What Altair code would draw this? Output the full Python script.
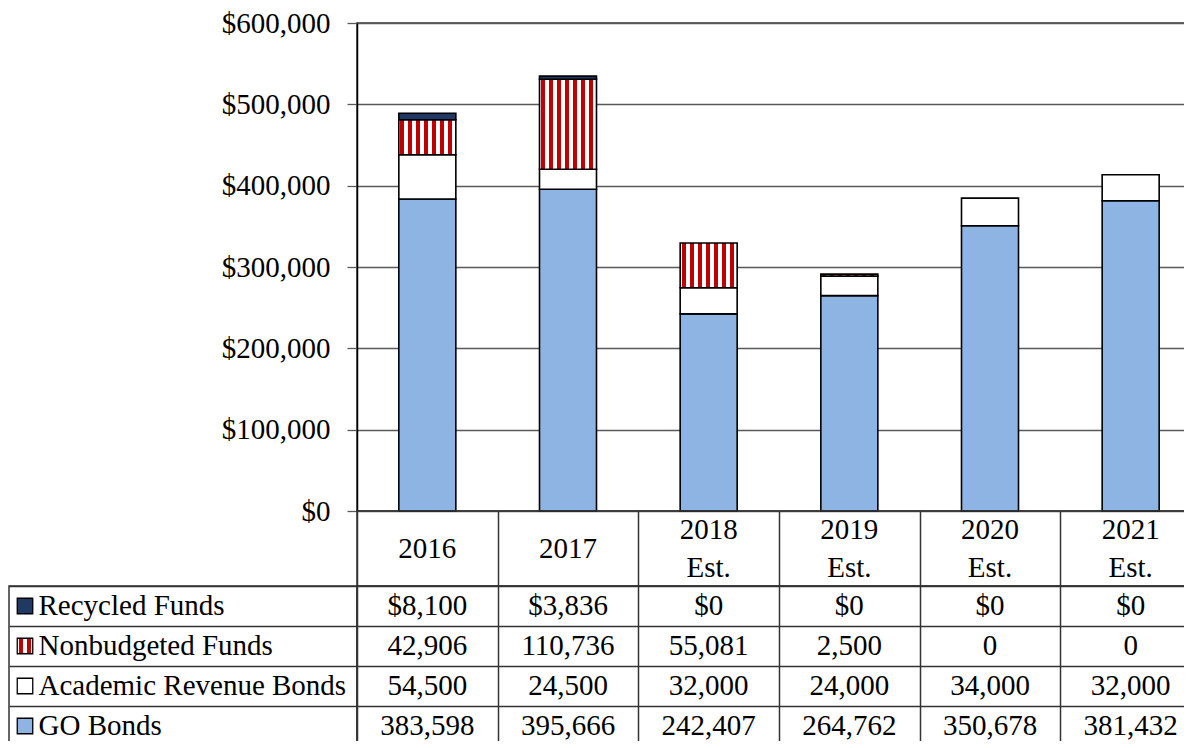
import altair as alt
import pandas as pd

# ---- data ----
years = ["2016", "2017", "2018 Est.", "2019 Est.", "2020 Est.", "2021 Est."]
recycled = [8100, 3836, 0, 0, 0, 0]
nonbudgeted = [42906, 110736, 55081, 2500, 0, 0]
academic = [54500, 24500, 32000, 24000, 34000, 32000]
go_bonds = [383598, 395666, 242407, 264762, 350678, 381432]

row_names = ["Recycled Funds", "Nonbudgeted Funds", "Academic Revenue Bonds", "GO Bonds"]
series_values = {
    "Recycled Funds": recycled,
    "Nonbudgeted Funds": nonbudgeted,
    "Academic Revenue Bonds": academic,
    "GO Bonds": go_bonds,
}
stack_order = ["GO Bonds", "Academic Revenue Bonds", "Nonbudgeted Funds", "Recycled Funds"]
y_ticks = [0, 100000, 200000, 300000, 400000, 500000, 600000]

# ---- styles ----
FONT = "Liberation Serif"
FS = 29
RED = "#C00000"
NAVY = "#1F3864"
BLUE = "#8EB4E3"
LINE = "#333333"
GRID = "#595959"


def stripe_gradient(n, start, red_w, period, total):
    stops = [alt.GradientStop(offset=0, color="white")]
    for i in range(n):
        a = (start + i * period) / total
        b = (start + i * period + red_w) / total
        stops += [
            alt.GradientStop(offset=a, color="white"),
            alt.GradientStop(offset=a, color=RED),
            alt.GradientStop(offset=b, color=RED),
            alt.GradientStop(offset=b, color="white"),
        ]
    stops.append(alt.GradientStop(offset=1, color="white"))
    return alt.LinearGradient(gradient="linear", stops=stops, x1=0, x2=1, y1=0, y2=0)


fills = {
    "GO Bonds": BLUE,
    "Academic Revenue Bonds": "white",
    "Nonbudgeted Funds": stripe_gradient(7, 1.5, 4, 8, 57),
    "Recycled Funds": NAVY,
}
swatch_fills = {
    "GO Bonds": BLUE,
    "Academic Revenue Bonds": "white",
    "Nonbudgeted Funds": stripe_gradient(2, 1.5, 4.5, 8, 15.5),
    "Recycled Funds": NAVY,
}

# ---- derived tables ----
seg_rows = []
for i, yr in enumerate(years):
    base = 0
    for s in stack_order:
        v = series_values[s][i]
        if v > 0:
            seg_rows.append({"year": yr, "series": s, "y0": base, "y1": base + v})
        base += v
segs = pd.DataFrame(seg_rows)

cell_rows = []
for r, s in enumerate(row_names):
    for i, yr in enumerate(years):
        v = series_values[s][i]
        txt = f"${v:,.0f}" if r == 0 else f"{v:,.0f}"
        cell_rows.append({"year": yr, "row": s, "label": txt})
cells = pd.DataFrame(cell_rows)

header = pd.DataFrame({
    "year": years,
    "label": [y.replace(" ", "\n") for y in years],
    "lines": [len(y.split(" ")) for y in years],
})
rows_df = pd.DataFrame({"row": row_names})

W_LEFT = 348
W_PLOT = 844
H_BARS = 488
H_HEAD = 75
H_BODY = 160

x_cols = alt.Scale(domain=years, paddingInner=0, paddingOuter=0)
y_rows = alt.Scale(domain=row_names, paddingInner=0, paddingOuter=0)
bar_pad = 1 - 57 / (W_PLOT / 6)


def grid_axis():
    return alt.Axis(labels=False, ticks=False, domain=False, grid=True, tickBand="extent",
                    gridColor=LINE, gridWidth=1.5, title=None)


# ---- bar chart ----
bar_base = alt.Chart(segs).encode(
    x=alt.X("year:N", scale=alt.Scale(domain=years, paddingInner=bar_pad, paddingOuter=bar_pad / 2), axis=None),
    y=alt.Y(
        "y1:Q",
        scale=alt.Scale(domain=[0, 600000], nice=False),
        axis=alt.Axis(
            values=y_ticks, format="$,.0f", title=None, grid=True, gridColor=GRID,
            gridWidth=1.3, tickSize=10, tickColor=GRID, tickWidth=1.3, labelPadding=17,
            labelFontSize=FS, labelFont=FONT, labelColor="black", domainColor="black",
            domainWidth=1.5,
        ),
    ),
    y2="y0:Q",
)
bar_layers = [
    bar_base.transform_filter(alt.datum.series == s).mark_bar(
        fill=fills[s], stroke="black", strokeWidth=1.6, opacity=1
    )
    for s in stack_order
]
bars = alt.layer(*bar_layers).properties(
    width=W_PLOT, height=H_BARS, view=alt.ViewBackground(stroke=LINE, strokeWidth=1.5)
)


def blank(h):
    return (
        alt.Chart(pd.DataFrame({"a": [0]}))
        .mark_text(text="")
        .properties(width=W_LEFT, height=h, view=alt.ViewBackground(stroke="transparent"))
    )


# ---- header row ----
head_base = alt.Chart(header).encode(
    x=alt.X("year:N", scale=x_cols, axis=grid_axis()),
    text="label:N",
)
head_one = head_base.transform_filter(alt.datum.lines == 1).mark_text(
    font=FONT, fontSize=FS, lineBreak="\n", baseline="middle", lineHeight=38, color="black"
)
head_two = head_base.transform_filter(alt.datum.lines == 2).mark_text(
    font=FONT, fontSize=FS, lineBreak="\n", baseline="middle", lineHeight=38, color="black", dy=-19
)
head = alt.layer(head_one, head_two).properties(width=W_PLOT, height=H_HEAD)

# ---- body of the table ----
body = (
    alt.Chart(cells)
    .mark_text(font=FONT, fontSize=FS, baseline="middle", color="black")
    .encode(
        x=alt.X("year:N", scale=x_cols, axis=grid_axis()),
        y=alt.Y("row:N", scale=y_rows, axis=grid_axis()),
        text="label:N",
    )
    .properties(width=W_PLOT, height=H_BODY)
)

# ---- legend column ----
lab_base = alt.Chart(rows_df).encode(
    y=alt.Y("row:N", scale=y_rows, axis=grid_axis()),
)
lab_text = lab_base.mark_text(font=FONT, fontSize=FS, align="left", baseline="middle", color="black").encode(
    x=alt.value(29.5), text="row:N"
)
swatches = [
    lab_base.transform_filter(alt.datum.row == s)
    .mark_square(size=240, fill=swatch_fills[s], stroke="black", strokeWidth=1.3, opacity=1, filled=True)
    .encode(x=alt.value(16))
    for s in row_names
]
labels = alt.layer(lab_text, *swatches).properties(width=W_LEFT, height=H_BODY)

chart = (
    alt.concat(
        blank(H_BARS), bars,
        blank(H_HEAD), head,
        labels, body,
        columns=2, spacing=0, bounds="flush",
    )
    .properties(padding={"top": 0, "left": 0, "right": -18, "bottom": -6})
    .configure(font=FONT)
    .configure_view(stroke=LINE, strokeWidth=1.5)
)

chart.save("out.html", embed_options={"renderer": "svg", "actions": False})
